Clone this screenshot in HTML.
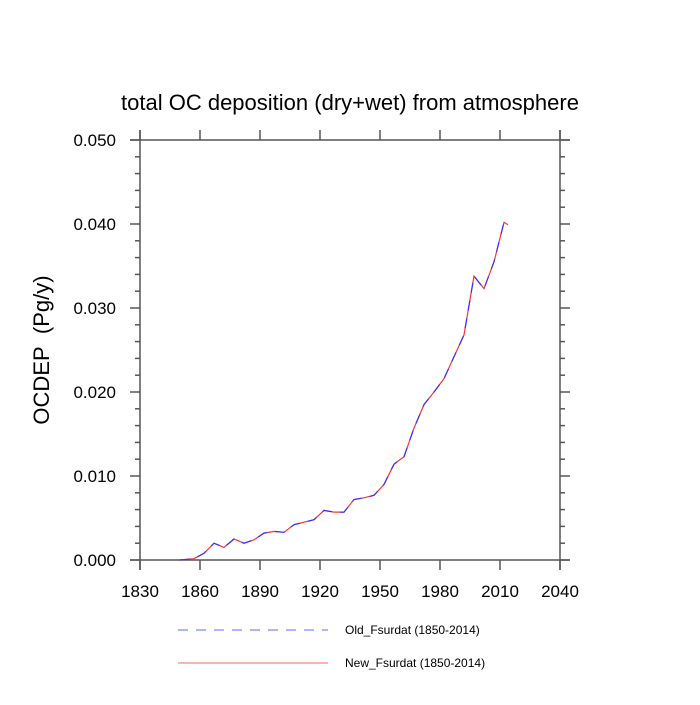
<!DOCTYPE html>
<html><head><meta charset="utf-8"><style>
body{margin:0;background:#fff;}
svg text{font-family:"Liberation Sans",sans-serif;}
</style></head><body>
<svg id="c" width="700" height="700" xmlns="http://www.w3.org/2000/svg">
<text x="350" y="110" font-size="22" text-anchor="middle">total OC deposition (dry+wet) from atmosphere</text>
<text transform="translate(49,350) rotate(-90)" font-size="22" text-anchor="middle">OCDEP&#160;&#160;(Pg/y)</text>
<g id="axes"></g>
<g id="series"></g>
<g>
<line x1="178" y1="630" x2="328" y2="630" stroke="#6666ff" stroke-width="1" stroke-dasharray="10,8"/>
<text x="345" y="634" font-size="12">Old_Fsurdat (1850-2014)</text>
<line x1="178" y1="663" x2="328" y2="663" stroke="#ff6666" stroke-width="1"/>
<text x="345" y="667" font-size="12">New_Fsurdat (1850-2014)</text>
</g>
</svg>
<script>
const years=[1850,1857,1862,1867,1872,1877,1882,1887,1892,1897,1902,1907,1912,1917,1922,1927,1932,1937,1942,1947,1952,1957,1962,1967,1972,1977,1982,1987,1992,1997,2002,2007,2012,2014];
const oldVals=[0,0.00015,0.0008,0.002,0.0015,0.0025,0.002,0.0024,0.0032,0.0034,0.0033,0.0042,0.0045,0.0048,0.0059,0.0057,0.0057,0.0072,0.0074,0.0077,0.009,0.0114,0.0123,0.0157,0.0185,0.020,0.0216,0.0242,0.0268,0.0338,0.0323,0.0355,0.0402,0.0399];
const newVals=[0,0.00015,0.0008,0.002,0.0015,0.0025,0.002,0.0024,0.0032,0.0034,0.0033,0.0042,0.0045,0.0048,0.0059,0.0057,0.0057,0.0072,0.0074,0.0077,0.009,0.0114,0.0123,0.0157,0.0185,0.020,0.0216,0.0242,0.0268,0.0338,0.0323,0.0355,0.0402,0.0399];
const xTicks=[1830,1860,1890,1920,1950,1980,2010,2040];
const yTicks=[0,0.01,0.02,0.03,0.04,0.05];
const yTickLabels=["0.000","0.010","0.020","0.030","0.040","0.050"];
const L=140,R=560,T=140,B=560;
const xs=v=>L+(v-1830)/210*(R-L);
const ys=v=>B-v/0.05*(B-T);
const NS="http://www.w3.org/2000/svg";
function mk(tag,attrs,parent){const e=document.createElementNS(NS,tag);for(const k in attrs)e.setAttribute(k,attrs[k]);parent.appendChild(e);return e;}
const ax=document.getElementById('axes');
const st={stroke:'#555','stroke-width':1.5};
[[L-10,B,R+10,B],[L-10,T,R+10,T],[L,T-10,L,B+10],[R,T-10,R,B+10]].forEach(c=>{
  const ln=mk('line',Object.assign({x1:c[0],y1:c[1],x2:c[2],y2:c[3]},st),ax);
  
  
});
xTicks.forEach(v=>{
  const x=xs(v);
  mk('line',Object.assign({x1:x,y1:B,x2:x,y2:B+10},st),ax);
  mk('line',Object.assign({x1:x,y1:T,x2:x,y2:T-10},st),ax);
  const t=mk('text',{x:x,y:B+37,'font-size':17,'text-anchor':'middle'},ax);t.textContent=v;
  
  
});
for(let i=0;i<=25;i++){
  const v=i*0.002,y=ys(v);
  if(i%5===0) continue;
  mk('line',Object.assign({x1:L,y1:y,x2:L-5,y2:y},st),ax);
  mk('line',Object.assign({x1:R,y1:y,x2:R+5,y2:y},st),ax);
}
yTicks.forEach((v,i)=>{
  const y=ys(v);
  mk('line',Object.assign({x1:L,y1:y,x2:L-10,y2:y},st),ax);
  mk('line',Object.assign({x1:R,y1:y,x2:R+10,y2:y},st),ax);
  const t=mk('text',{x:L-24,y:y+6,'font-size':17,'text-anchor':'end'},ax);t.textContent=yTickLabels[i];
  
  
});
const sg=document.getElementById('series');
const pts=a=>a.map((v,i)=>xs(years[i]).toFixed(1)+','+ys(v).toFixed(1)).join(' ');
const pn=mk('polyline',{points:pts(newVals),fill:'none',stroke:'#ff3333','stroke-width':1.2},sg);


const po=mk('polyline',{points:pts(oldVals),fill:'none',stroke:'#3333ff','stroke-width':1.2,'stroke-dasharray':'10,8'},sg);


</script>
</body></html>
